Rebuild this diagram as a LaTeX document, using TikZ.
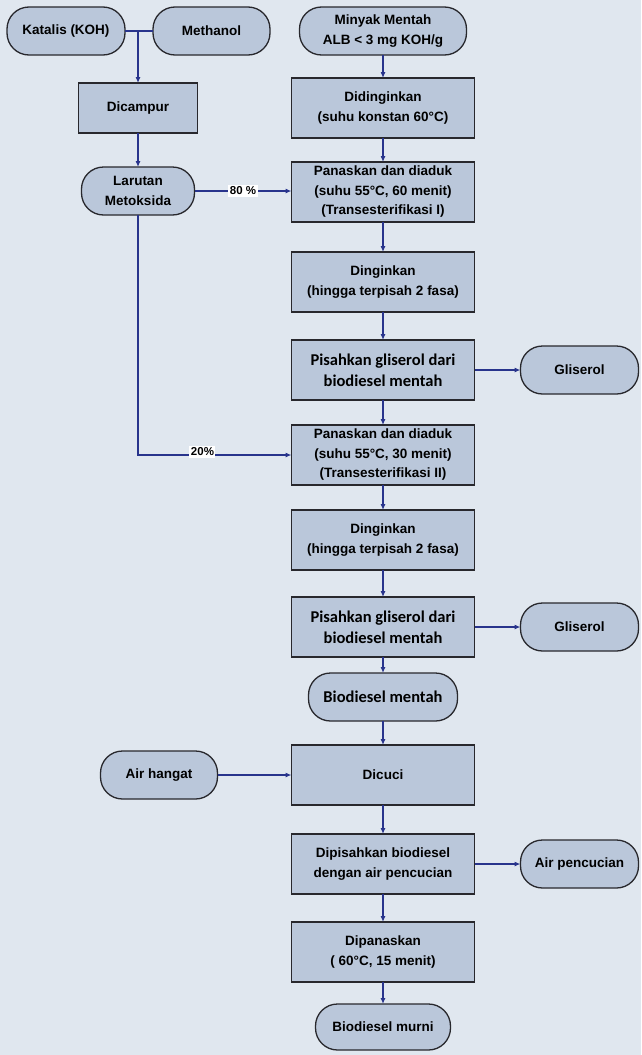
\documentclass[tikz,border=0pt]{standalone}
\usepackage{fontspec}
\setmainfont{Liberation Sans}
\newfontfamily\carlito{Carlito}
\usetikzlibrary{positioning,arrows.meta}
\definecolor{pagebg}{RGB}{224,231,239}
\definecolor{boxfill}{RGB}{186,199,218}
\definecolor{edge}{RGB}{40,40,45}
\definecolor{navy}{RGB}{40,52,140}
\begin{document}
\begin{tikzpicture}[x=1pt,y=1pt,proc/.style={draw=edge,line width=1.3pt,outer sep=0pt,fill=boxfill,minimum width=183pt,minimum height=60pt,align=center,inner sep=2pt,font=\bfseries\fontsize{13.5}{19.5}\selectfont},term/.style={draw=edge,line width=1.3pt,outer sep=0pt,fill=boxfill,rounded corners=22pt,minimum height=48pt,align=center,inner sep=2pt,font=\bfseries\fontsize{13.5}{19.5}\selectfont},cal/.style={font=\carlito\bfseries\fontsize{16.5}{21}\selectfont},arr/.style={-{Latex[length=6pt,width=5pt]},line width=1.1pt,draw=navy},pct/.style={fill=white,inner sep=1.5pt,font=\bfseries\fontsize{11.5}{13}\selectfont}]
\useasboundingbox (0,0) rectangle (641,-1055);
\fill[pagebg] (0,0) rectangle (641,-1055);
% left column
\node[term,minimum width=118pt] (katalis) at (66,-31) {Katalis (KOH)};
\node[term,minimum width=117pt,right=28pt of katalis] (methanol) {Methanol};
\node[proc,minimum width=119pt,minimum height=50pt] (campur) at (138,-108) {Dicampur};
\node[term,minimum width=113pt,below=34pt of campur] (larutan) {Larutan\\Metoksida};
% main column
\node[term,minimum width=167pt] (minyak) at (383,-31) {Minyak Mentah\\ALB < 3 mg KOH/g};
\node[proc,below=23pt of minyak] (didingin) {Didinginkan\\(suhu konstan 60°C)};
\node[proc,below=24pt of didingin] (panas1) {Panaskan dan diaduk\\(suhu 55°C, 60 menit)\\(Transesterifikasi I)};
\node[proc,below=30pt of panas1] (dingin1) {Dinginkan\\(hingga terpisah 2 fasa)};
\node[proc,cal,below=28pt of dingin1] (pisah1) {Pisahkan gliserol dari\\biodiesel mentah};
\node[term,minimum width=118pt,right=46pt of pisah1] (gliserol1) {Gliserol};
\node[proc,below=25pt of pisah1] (panas2) {Panaskan dan diaduk\\(suhu 55°C, 30 menit)\\(Transesterifikasi II)};
\node[proc,below=25pt of panas2] (dingin2) {Dinginkan\\(hingga terpisah 2 fasa)};
\node[proc,cal,below=27pt of dingin2] (pisah2) {Pisahkan gliserol dari\\biodiesel mentah};
\node[term,minimum width=118pt,right=46pt of pisah2] (gliserol2) {Gliserol};
\node[term,cal,minimum width=149pt,below=16pt of pisah2] (mentah) {Biodiesel mentah};
\node[proc,below=24pt of mentah] (cuci) {Dicuci};
\node[term,minimum width=117pt,left=74pt of cuci] (hangat) {Air hangat};
\node[proc,below=29pt of cuci] (pisahair) {Dipisahkan biodiesel\\dengan air pencucian};
\node[term,minimum width=118pt,right=46pt of pisahair] (pencucian) {Air pencucian};
\node[proc,below=28pt of pisahair] (panas3) {Dipanaskan\\( 60°C, 15 menit)};
\node[term,minimum width=135pt,minimum height=46pt,below=22pt of panas3] (murni) {Biodiesel murni};
% connectors
\draw[navy,line width=1.1pt] (katalis) -- (methanol);
\draw[arr] (campur |- katalis) -- (campur);\draw[arr] (campur) -- (larutan);
\draw[arr] (larutan.east) -- node[pct] {80 \%} (larutan.east -| panas1.west);
\draw[arr] (larutan) |- node[pct,pos=.71,yshift=3pt] {20\%} (panas2);
\draw[arr] (minyak) -- (didingin);\draw[arr] (didingin) -- (panas1);\draw[arr] (panas1) -- (dingin1);
\draw[arr] (dingin1) -- (pisah1);\draw[arr] (pisah1) -- (panas2);\draw[arr] (panas2) -- (dingin2);
\draw[arr] (dingin2) -- (pisah2);\draw[arr] (pisah2) -- (mentah);\draw[arr] (mentah) -- (cuci);
\draw[arr] (cuci) -- (pisahair);\draw[arr] (pisahair) -- (panas3);\draw[arr] (panas3) -- (murni);
\draw[arr] (pisah1) -- (gliserol1);\draw[arr] (pisah2) -- (gliserol2);
\draw[arr] (hangat) -- (cuci);\draw[arr] (pisahair) -- (pencucian);
\end{tikzpicture}
\end{document}
